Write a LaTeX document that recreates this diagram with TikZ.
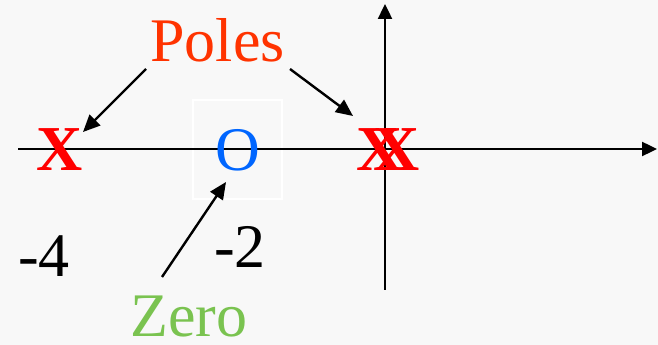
\documentclass[tikz,border=0pt]{standalone}
\usepackage{fontspec}
\setmainfont{Liberation Serif}
\usetikzlibrary{arrows.meta}
\definecolor{bgc}{RGB}{248,248,248}
\definecolor{polec}{RGB}{255,51,0}
\definecolor{xred}{RGB}{255,0,0}
\definecolor{zblue}{RGB}{0,102,255}
\definecolor{zgreen}{RGB}{122,195,80}
\tikzset{
  lbl/.style={inner sep=0pt, anchor=base, font=\fontsize{62}{62}\selectfont},
  mark x/.style={lbl, text=xred, font=\fontsize{64}{64}\selectfont\bfseries},
  axis/.style={line width=2.4pt, -{Triangle[length=15pt,width=14pt]}},
  pointer/.style={line width=2.4pt, -{Triangle[length=17pt,width=15pt]}}
}
\begin{document}
\begin{tikzpicture}[x=1pt,y=1pt]
\fill[bgc] (0,0) rectangle (658,345);
\useasboundingbox (0,0) rectangle (658,345);
% white frame around zero
\node[draw=white, line width=1.2pt, minimum width=89pt, minimum height=99pt, inner sep=0pt] (zbox) at (237.5,195.5) {};
% axes
\coordinate (xl) at (18,196);
\coordinate (xr) at (657,196);
\coordinate (yb) at (385,55);
\coordinate (yt) at (385,341);
\draw[axis] (xl) -- (xr);
\draw[axis] (yb) -- (yt);
% marks
\node[mark x] (x1) at (60,174) {X};
\node[mark x] (x2) at (380,174) {X};
\node[mark x] (x3) at (397,174) {X};
\node[lbl, text=zblue] (o) at (237.5,174) {O};
% labels
\node[lbl, text=polec] (poles) at (217.5,283) {Poles};
\node[lbl, text=zgreen] (zero) at (189,8) {Zero};
\node[lbl] (m4) at (44,68) {-4};
\node[lbl] (m2) at (240,77) {-2};
% pointers
\coordinate (p1s) at (146,276);
\coordinate (p1e) at (83,213);
\coordinate (p2s) at (290,276);
\coordinate (p2e) at (353,229);
\coordinate (zs) at (162,68);
\coordinate (ze) at (226,163);
\draw[pointer] (p1s) -- (p1e);
\draw[pointer] (p2s) -- (p2e);
\draw[pointer] (zs) -- (ze);
\end{tikzpicture}
\end{document}
